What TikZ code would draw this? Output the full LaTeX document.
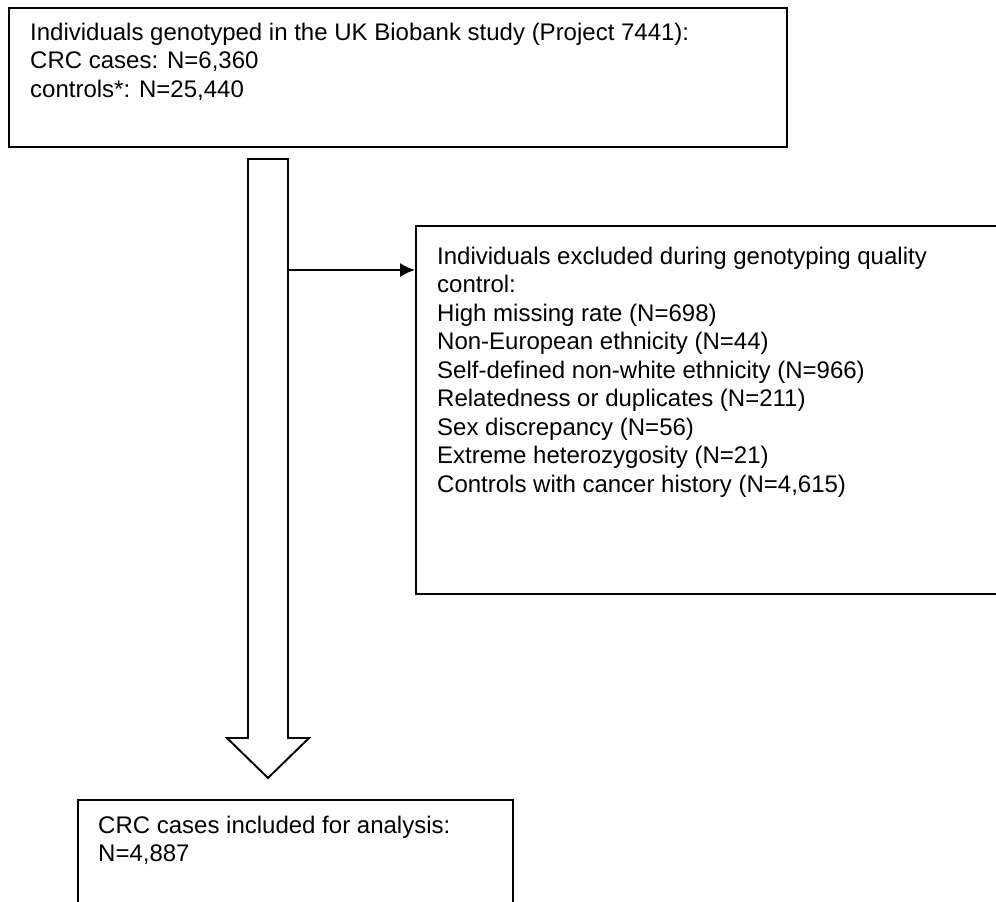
\documentclass[tikz,border=0pt]{standalone}
\usepackage{fontspec}
\setmainfont{Liberation Sans}
\usetikzlibrary{arrows.meta,calc}
\begin{document}
\begin{tikzpicture}[x=1pt,y=-1pt,
  boxline/.style={draw=black,line width=1.9pt,fill=none},
  txt/.style={anchor=north west,inner sep=0pt,align=left,font=\fontsize{24}{28.5}\selectfont},
  blockarrow/.style={draw=black,line width=1.9pt,line join=miter,fill=white},
  thinarrow/.style={draw=black,line width=1.9pt,-{Latex[length=15pt,width=14pt]}}]
\useasboundingbox (0,0) rectangle (996,902);
% boxes
\node[boxline,minimum width=778pt,minimum height=139pt,anchor=north west,inner sep=0pt] (topbox) at (8,7) {};
\node[boxline,minimum width=600pt,minimum height=368pt,anchor=north west,inner sep=0pt] (excl) at (415,225) {};
\node[boxline,minimum width=435pt,minimum height=140pt,anchor=north west,inner sep=0pt] (incl) at (77,799) {};
% texts
\node[txt] (topt) at (30,22.5) {Individuals genotyped in the UK Biobank study (Project 7441):\\CRC cases: N=6,360\\controls*: N=25,440};
\node[txt] (exclt) at (437,246.8) {Individuals excluded during genotyping quality\\control:\\High missing rate (N=698)\\Non-European ethnicity (N=44)\\Self-defined non-white ethnicity (N=966)\\Relatedness or duplicates (N=211)\\Sex discrepancy (N=56)\\Extreme heterozygosity (N=21)\\Controls with cancer history (N=4,615)};
\node[txt] (inclt) at (98,815.5) {CRC cases included for analysis:\\N=4,887};
% block arrow
\coordinate (sl) at (248,159);
\coordinate (sr) at (288,159);
\coordinate (hl) at (248,738);
\coordinate (hr) at (288,738);
\coordinate (tip) at (268,778);
\draw[blockarrow] (sl) -- (hl) -- ++(-21,0) -- (tip) -- ($(hr)+(21,0)$) -- (hr) -- (sr) -- cycle;
% side arrow
\coordinate (branch) at (288,270);
\draw[thinarrow] (branch) -- (branch -| excl.west);
\end{tikzpicture}
\end{document}
